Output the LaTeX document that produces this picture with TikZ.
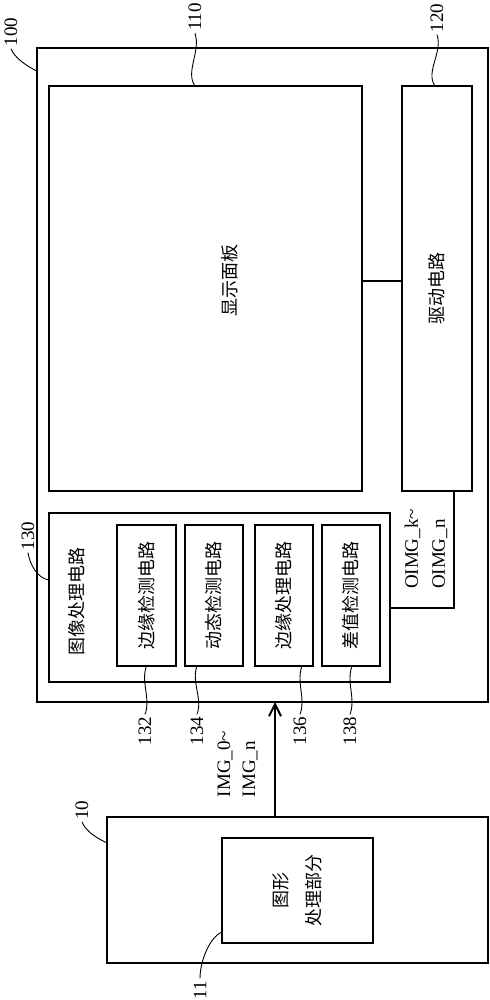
\documentclass[tikz,border=0pt]{standalone}
\usepackage{fontspec}
\setmainfont{Liberation Serif}
\newfontfamily\cjk{Noto Sans CJK SC}
\usetikzlibrary{arrows.meta,calc}
\begin{document}
\begin{tikzpicture}[x=0.5pt,y=-0.5pt,
  box/.style={draw,line width=1pt,inner sep=0pt,outer sep=0pt,anchor=north west},
  lead/.style={draw,line width=0.45pt},
  wire/.style={draw,line width=1pt},
  num/.style={font=\fontsize{9.5}{11}\selectfont,rotate=90,inner sep=1pt},
  cn/.style={font=\cjk\fontsize{9}{11}\selectfont,rotate=90,inner sep=0pt},
  sig/.style={rotate=90,align=left,inner sep=0pt}]
\useasboundingbox (0,0) rectangle (490,1000);
% boxes
\node[box,minimum width=225.5pt,minimum height=327pt] (b100) at (37,48) {};
\node[box,minimum width=156.5pt,minimum height=202.5pt] (b110) at (49,86) {};
\node[box,minimum width=35pt,minimum height=202.5pt] (b120) at (402,86) {};
\node[box,minimum width=170.5pt,minimum height=84.5pt] (b130) at (49,513) {};
\node[box,minimum width=29.5pt,minimum height=70.5pt] (s1) at (117,525) {};
\node[box,minimum width=29pt,minimum height=70.5pt] (s2) at (185,525) {};
\node[box,minimum width=29pt,minimum height=70.5pt] (s3) at (255,525) {};
\node[box,minimum width=29pt,minimum height=70.5pt] (s4) at (322,525) {};
\node[box,minimum width=190.5pt,minimum height=73pt] (b10) at (107,817) {};
\node[box,minimum width=75.5pt,minimum height=52.5pt] (b11) at (222,838) {};
% texts
\node[cn] (t110) at (230,280) {显示面板};
\node[cn] (t120) at (437,288) {驱动电路};
\node[cn] (t130) at (77,601) {图像处理电路};
\node[cn] (t132) at (s1.center) {边缘检测电路};
\node[cn] (t134) at (s2.center) {动态检测电路};
\node[cn] (t136) at (s3.center) {边缘处理电路};
\node[cn] (t138) at (s4.center) {差值检测电路};
\node[cn,align=center,font=\cjk\fontsize{9}{16.5}\selectfont] (t11) at (b11.center) {图形\\处理部分};
\node[sig,font=\fontsize{9.5}{12.5}\selectfont] (tsig) at (237.5,764) {IMG\_0\textasciitilde\\IMG\_n};
\node[sig,font=\fontsize{9.5}{13.5}\selectfont] (tout) at (426,549) {OIMG\_k\textasciitilde\\OIMG\_n};
% reference numbers
\node[num] (l100) at (11,32) {100};
\node[num] (l110) at (195,17) {110};
\node[num] (l120) at (437,18) {120};
\node[num] (l130) at (28,536) {130};
\node[num] (l132) at (145,731) {132};
\node[num] (l134) at (197,731) {134};
\node[num] (l136) at (300,731) {136};
\node[num] (l138) at (350,731) {138};
\node[num] (l10) at (82,810) {10};
\node[num] (l11) at (200,990) {11};
% leaders
\draw[lead] (l100.west) .. controls +(3,9) and +(-9,-4) .. ($(b100.north west)+(0,23)$);
\draw[lead] (l110.west) .. controls +(6,18) and +(-10,-14) .. ($(b110.north west)+(146,0)$);
\draw[lead] (l120.west) .. controls +(6,18) and +(-10,-14) .. ($(b120.north west)+(33,0)$);
\draw[lead] (l130.west) .. controls +(2,12) and +(-12,-2) .. ($(b130.north west)+(0,67)$);
\draw[lead] (s1.south) .. controls +(-6,16) and +(6,-16) .. (l132.east);
\draw[lead] ($(s2.south)+(-17,0)$) .. controls +(-6,16) and +(6,-16) .. (l134.east);
\draw[lead] ($(s3.south)+(18,0)$) .. controls +(-6,16) and +(6,-16) .. (l136.east);
\draw[lead] ($(s4.south)+(1,0)$) .. controls +(-6,16) and +(6,-16) .. (l138.east);
\draw[lead] (l10.west) .. controls +(4,10) and +(-10,-5) .. ($(b10.north west)+(0,26)$);
\draw[lead] (l11.east) .. controls +(0,-18) and +(-12,5) .. ($(b11.south west)+(0,-11)$);
% connectors
\draw[wire] ([yshift=3.75pt]b110.east) -- ([yshift=3.75pt]b120.west);
\coordinate (o0) at ($(b120.south)+(17,0)$);
\draw[wire] (o0) |- ($(b130.east)+(0,10.5)$);
\coordinate (a0) at ($(b10.north west)+(168,0)$);
\draw[wire,-{Straight Barb[length=6pt,width=6pt,line width=1pt]}] (a0) -- (a0 |- b100.south);
\end{tikzpicture}
\end{document}
